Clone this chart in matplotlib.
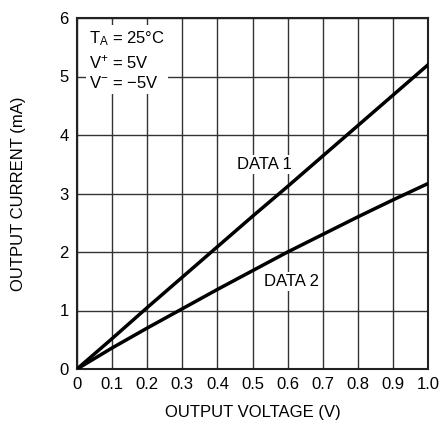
import matplotlib
matplotlib.use("Agg")
import matplotlib.pyplot as plt
from matplotlib import font_manager

voltage = [0.0, 0.1, 0.2, 0.3, 0.4, 0.5, 0.6, 0.7, 0.8, 0.9, 1.0]
data1 = [0.0, 0.52, 1.05, 1.57, 2.09, 2.61, 3.12, 3.64, 4.16, 4.68, 5.2]
data2 = [0.0, 0.36, 0.70, 1.03, 1.36, 1.68, 2.0, 2.3, 2.6, 2.89, 3.17]
xticks = [0, 0.1, 0.2, 0.3, 0.4, 0.5, 0.6, 0.7, 0.8, 0.9, 1.0]
xticklabels = ["0", "0.1", "0.2", "0.3", "0.4", "0.5", "0.6", "0.7", "0.8", "0.9", "1.0"]
yticks = [0, 1, 2, 3, 4, 5, 6]

names = {f.name for f in font_manager.fontManager.ttflist}
fam = ["Liberation Sans Narrow", "DejaVu Sans"] if "Liberation Sans Narrow" in names else ["Liberation Sans", "DejaVu Sans"]
plt.rcParams['font.family'] = fam
plt.rcParams['mathtext.fontset'] = 'custom'
plt.rcParams['mathtext.rm'] = fam[0]
plt.rcParams['mathtext.it'] = fam[0]

fig = plt.figure(figsize=(4.41, 4.25), dpi=100)
ax = fig.add_axes([77/441, 1-369/425, 351/441, 351/425])
ax.set_xlim(0, 1.0)
ax.set_ylim(0, 6)
ax.set_xticks(xticks)
ax.set_xticklabels(xticklabels)
ax.set_yticks(yticks)
ax.grid(True, color="#333333", linewidth=1.0)
ax.set_axisbelow(True)
ax.tick_params(length=0, labelsize=12, pad=6)
for s in ax.spines.values():
    s.set_linewidth(1.5)
    s.set_color("#222222")

ax.plot(voltage, data1, color="black", linewidth=2.5, zorder=3)
ax.plot(voltage, data2, color="black", linewidth=2.5, zorder=3)

bbox = dict(facecolor="white", edgecolor="none", pad=1.5)
ax.text(0.533, 3.49, "DATA 1", ha="center", va="center", fontsize=12, bbox=bbox, zorder=2)
ax.text(0.611, 1.49, "DATA 2", ha="center", va="center", fontsize=12, bbox=bbox, zorder=2)

ax.text(0.035, 5.80, "T$_\\mathregular{A}$ = 25°C\nV$^\\mathregular{+}$ = 5V\nV$^\\mathregular{−}$ = −5V",
        ha="left", va="top", fontsize=12, linespacing=1.3,
        bbox=dict(facecolor="white", edgecolor="none", pad=2), zorder=2)

ax.set_xlabel("OUTPUT VOLTAGE (V)", fontsize=12, labelpad=9)
ax.set_ylabel("OUTPUT CURRENT (mA)", fontsize=12, labelpad=24)

fig.savefig("out.png", dpi=100)
